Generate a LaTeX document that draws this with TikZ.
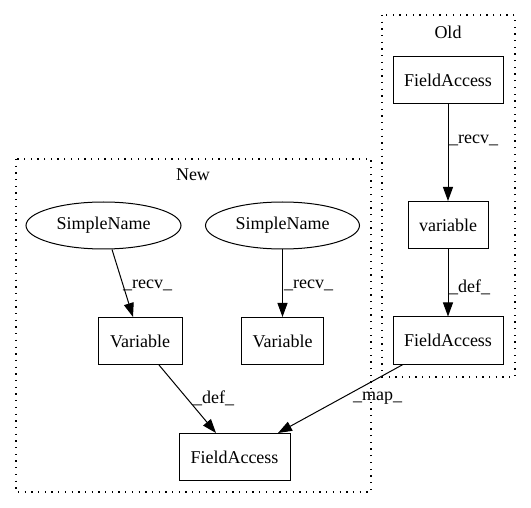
\documentclass[tikz,border=0pt]{standalone}
\usepackage{fontspec}
\setmainfont{Liberation Serif}
\usetikzlibrary{shapes.geometric,arrows.meta,calc}
\begin{document}
\begin{tikzpicture}[x=1pt,y=-1pt,
  every node/.style={font=\fontsize{18}{20}\selectfont},
  box/.style={draw,line width=1pt,rectangle,inner sep=0pt,minimum height=47pt},
  oval/.style={draw,line width=1pt,ellipse,inner sep=0pt,minimum height=47pt},
  cluster/.style={draw,line width=1.1pt,dash pattern=on 1.3pt off 5.4pt},
  edge/.style={line width=1pt,-{Triangle[length=14pt,width=10pt]}},
  elabel/.style={anchor=west,inner sep=0pt}]
\useasboundingbox (0,0) rectangle (531,508);
% clusters
\draw[cluster] (382,15) rectangle (515,377);
\draw[cluster] (16,159) rectangle (371,492);
\node (oldlbl) at (448,32) {Old};
\node (newlbl) at (193,175) {New};
% Old nodes
\node[box,minimum width=110pt] (fa1) at (448,80.5) {FieldAccess};
\node[box,minimum width=80pt] (var1) at (448,225) {variable};
\node[box,minimum width=110pt] (fa2) at (448,340.5) {FieldAccess};
% New nodes
\node[oval,minimum width=155pt] (sn1) at (103.5,225.5) {SimpleName};
\node[oval,minimum width=154pt] (sn2) at (282.5,225.5) {SimpleName};
\node[box,minimum width=84pt] (v1) at (140,341) {Variable};
\node[box,minimum width=82pt] (v2) at (282.5,341) {Variable};
\node[box,minimum width=111pt] (fa3) at (234.5,457) {FieldAccess};
% edges
\draw[edge] (fa1.south) -- (var1.north);
\draw[edge] (var1.south) -- (fa2.north);
\draw[edge] ($(sn1.south)+(8.5,0)$) -- ($(v1.north)+(-7,0)$);
\draw[edge] (sn2.south) -- (v2.north);
\draw[edge] ($(v1.south)+(19,0)$) -- ($(fa3.north)+(-18.5,0)$);
\draw[edge] ($(fa2.south)+(-45,0)$) -- ($(fa3.north)+(43.5,0)$);
% edge labels
\node[elabel] (l1) at (449,140) {\_recv\_};
\node[elabel] (l2) at (449,287) {\_def\_};
\node[elabel] (l3) at (123,285) {\_recv\_};
\node[elabel] (l4) at (284,285) {\_recv\_};
\node[elabel] (l5) at (193,398) {\_def\_};
\node[elabel] (l6) at (353,398) {\_map\_};
\end{tikzpicture}
\end{document}
